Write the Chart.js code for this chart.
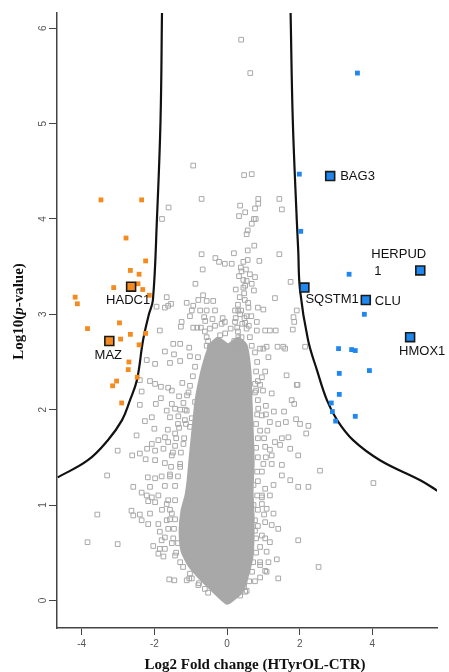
<!DOCTYPE html>
<html>
<head>
<meta charset="utf-8">
<script src="https://cdn.jsdelivr.net/npm/chart.js@4/dist/chart.umd.min.js"></script>
<style>
  html, body { margin:0; padding:0; background:#fff; }
  #wrap { width:449px; height:672px; }
</style>
</head>
<body>
<div id="wrap"><canvas id="volcano" width="449" height="672"></canvas></div>
<script>
// Volcano plot: log2 fold change (HTyrOL-CTR) vs log10(p-value)

const xTicks = [-4, -2, 0, 2, 4];
const yTicks = [0, 1, 2, 3, 4, 5, 6];

// non-significant proteins (hollow grey squares)
const greyPoints = [
  [0.39,5.88],[0.64,5.53],[-0.93,4.56],[0.47,4.46],[0.68,4.47],[-0.70,4.21],[-1.61,4.12],[0.36,4.14],
  [0.86,4.16],[0.86,4.21],[1.44,4.21],[0.77,4.11],[1.51,4.10],[0.50,4.07],[0.33,4.03],[-1.79,4.00],
  [0.74,4.00],[0.79,4.00],[0.68,3.95],[0.57,3.88],[0.54,3.84],[0.75,3.72],[1.44,3.63],[-0.70,3.63],
  [0.19,3.64],[0.57,3.67],[-0.32,3.59],[-0.22,3.55],[-0.06,3.53],[0.13,3.53],[0.45,3.55],[0.57,3.57],
  [0.89,3.56],[-0.67,3.47],[0.38,3.49],[0.52,3.47],[0.33,3.40],[0.63,3.42],[0.77,3.39],[1.75,3.34],
  [-0.87,3.32],[0.54,3.35],[0.68,3.32],[0.45,3.28],[0.74,3.25],[0.24,3.26],[-0.66,3.20],[0.47,3.22],
  [1.32,3.17],[-1.66,3.18],[-0.79,3.15],[-0.56,3.14],[-0.38,3.14],[0.49,3.15],[-1.54,3.11],[-1.62,3.09],
  [-1.94,3.08],[-1.11,3.12],[-0.93,3.09],[-1.71,3.07],[0.59,3.07],[0.85,3.07],[1.00,3.05],[1.92,3.04],
  [-0.97,3.04],[-0.74,3.04],[-0.56,3.04],[-0.33,3.04],[0.22,3.04],[0.31,3.04],[0.39,3.04],[-1.02,2.98],
  [-0.63,2.97],[0.54,2.98],[0.24,2.96],[0.48,2.96],[0.67,2.98],[1.83,2.97],[-1.25,2.92],[-0.12,2.96],
  [-0.60,2.93],[-0.06,2.92],[0.22,2.92],[0.50,2.91],[0.82,2.92],[1.85,2.92],[-1.27,2.87],[-0.93,2.86],
  [-0.82,2.86],[-0.72,2.86],[-0.47,2.85],[-0.33,2.88],[0.28,2.86],[0.54,2.85],[0.82,2.83],[1.05,2.83],
  [1.18,2.83],[1.34,2.83],[1.81,2.84],[-1.85,2.83],[-0.61,2.82],[-0.19,2.78],[0.31,2.76],[0.40,2.76],
  [0.63,2.76],[-0.56,2.76],[-1.48,2.69],[-1.29,2.69],[-1.04,2.65],[-0.56,2.67],[-0.47,2.66],[0.27,2.64],
  [0.45,2.66],[0.68,2.67],[1.00,2.64],[2.15,2.66],[1.60,2.64],[1.64,2.36],[1.92,2.26],
  [0.30,3.10],[0.36,3.00],[0.42,2.90],[0.45,3.36],[0.40,3.45],[0.30,2.82],[-0.05,2.80],[0.10,2.85],
  [-0.15,2.90],[0.35,3.18],[0.58,3.12],[0.60,2.88],[-0.40,2.95],[-0.52,2.72],[0.20,2.72],[0.50,3.30],
  [-1.71,2.61],[-1.46,2.58],[-1.02,2.56],[-2.21,2.52],[-1.98,2.48],[-1.57,2.49],[-1.29,2.51],[-2.40,2.31],
  [-2.12,2.30],[-1.98,2.27],[-1.82,2.24],[-1.62,2.23],[-1.23,2.28],[-1.52,2.20],[-2.35,2.19],[-1.06,2.18],
  [-1.32,2.14],[-1.82,2.12],[-2.40,2.05],[-1.96,2.06],[-1.52,2.06],[-1.20,2.07],[-0.88,2.08],[-1.66,1.99],
  [-1.43,2.01],[-1.11,1.99],[-2.26,1.88],[-2.07,1.92],[-1.57,1.92],[-1.34,1.93],[-1.16,1.89],[-0.97,1.91],
  [-2.00,1.80],[-1.63,1.79],[-1.32,1.81],[-1.02,1.82],[-2.49,1.73],[-1.71,1.71],[-1.43,1.75],[-2.07,1.64],
  [-1.89,1.68],[-1.62,1.66],[-1.43,1.62],[-1.20,1.64],[-2.20,1.59],[-1.98,1.57],[-1.75,1.59],[-1.52,1.52],
  [-2.61,1.52],[-2.40,1.54],[-2.24,1.48],[-1.98,1.47],[-1.71,1.44],[-1.29,1.43],[-3.30,1.31],[-2.18,1.29],
  [-1.98,1.28],[-1.80,1.30],[-1.57,1.32],[-2.58,1.19],[-2.12,1.19],[-3.01,1.57],
  [-0.80,2.55],[-0.88,2.45],[-0.94,2.35],[-1.02,2.25],[-1.10,2.15],[-1.16,2.00],[-1.29,2.00],[-1.13,1.85],
  [-1.35,1.85],[-1.18,1.70],[-1.40,1.70],[-1.27,1.55],[-1.49,1.55],[-1.29,1.40],[-1.54,1.40],[-1.35,1.30],
  [-1.57,1.30],[-1.43,1.20],[-1.71,1.20],[-1.43,1.05],[-1.62,1.05],[-1.57,0.95],[-1.79,0.95],[-1.57,0.85],
  [-1.43,0.85],[-1.62,0.75],[-1.46,0.75],[-1.52,0.60],[-1.35,0.60],[-1.40,0.50],[-1.21,0.35],[-1.02,0.28],
  [-0.77,0.18],[-0.52,0.08],
  [0.91,2.64],[1.09,2.66],[1.39,2.66],[1.55,2.66],[1.14,2.55],[0.96,2.34],[1.94,2.26],[0.77,2.27],
  [0.91,2.26],[1.23,2.17],[0.77,2.18],[1.78,2.10],[1.85,2.06],[1.07,2.04],[0.86,2.01],[1.29,1.98],
  [1.57,1.98],[0.96,1.94],[1.18,1.87],[1.41,1.85],[1.62,1.87],[1.90,1.90],[2.01,1.85],[2.24,1.83],
  [2.18,1.75],[1.11,1.78],[0.91,1.78],[1.51,1.70],[1.69,1.71],[1.32,1.66],[1.05,1.61],[1.18,1.58],
  [1.46,1.63],[1.74,1.59],[1.96,1.52],[1.23,1.52],[1.00,1.43],[1.23,1.43],[1.51,1.42],[2.56,1.36],
  [1.51,1.31],[1.74,1.26],[1.96,1.19],[2.24,1.19],[4.03,1.23],
  [0.77,2.60],[0.83,2.50],[0.80,2.40],[1.05,2.40],[0.85,2.30],[0.80,2.20],[0.99,2.20],[0.85,2.10],
  [0.83,1.95],[1.07,1.95],[0.80,1.85],[0.85,1.70],[1.02,1.70],[0.80,1.60],[0.85,1.50],[1.07,1.50],
  [0.83,1.35],[0.96,1.35],[0.85,1.25],[0.83,1.10],[0.96,1.10],[0.85,0.95],[1.02,0.90],[0.85,0.78],
  [0.80,0.65],[1.05,0.65],[0.80,0.50],[0.72,0.40],[0.91,0.40],[0.69,0.30],[0.61,0.20],[0.77,0.20],
  [0.47,0.15],
  [-3.57,0.90],[-3.84,0.61],[-3.01,0.59],[-2.35,1.13],[-2.21,1.10],[-2.07,1.08],[-1.89,1.10],[-2.17,1.04],
  [-1.98,1.03],[-1.66,1.01],[-2.63,0.94],[-2.58,0.89],[-2.40,0.90],[-2.12,0.91],[-2.35,0.84],[-2.17,0.80],
  [-1.89,0.80],[-1.66,0.84],[-1.52,0.91],[-1.85,0.72],[-1.71,0.66],[-1.80,0.63],[-1.48,0.65],[-2.03,0.57],
  [-1.85,0.54],[-1.71,0.54],[-1.89,0.49],[-1.75,0.46],[-1.43,0.47],[-1.29,0.40],[-1.59,0.22],[-1.45,0.21],
  [-1.11,0.21],[-0.97,0.23],[-0.79,0.16],[-0.61,0.12],[0.50,0.09],[0.36,0.05],[-1.04,0.23],
  [0.73,1.21],[1.05,1.17],[1.28,1.21],[0.96,1.08],[1.18,1.10],[0.73,1.00],[0.96,1.01],[1.09,0.96],
  [1.28,0.91],[0.77,0.84],[1.05,0.82],[1.23,0.79],[1.41,0.75],[0.77,0.73],[0.96,0.68],[1.18,0.61],
  [0.91,0.56],[1.09,0.51],[1.37,0.43],[0.91,0.37],[1.14,0.40],[1.05,0.31],[0.91,0.24],[1.41,0.23],
  [0.54,0.10],[2.52,0.35],[1.09,0.30],[1.96,0.63]
];

// outline of the dense, fully overlapped core of grey squares
const coreOutline = [
  [-0.47,2.68],[-0.61,2.52],[-0.72,2.36],[-0.85,2.10],[-0.94,1.78],[-1.02,1.47],[-1.07,1.26],[-1.13,1.10],
  [-1.24,0.94],[-1.29,0.73],[-1.24,0.52],[-1.05,0.37],[-0.69,0.21],[-0.39,0.10],[-0.14,0.01],[0.00,-0.03],
  [0.14,0.00],[0.41,0.09],[0.55,0.24],[0.69,0.47],[0.72,0.84],[0.69,1.15],[0.72,1.47],[0.66,2.10],
  [0.63,2.41],[0.52,2.68],[0.30,2.75],[0.03,2.68],[-0.25,2.75],[-0.47,2.68]
];

// significance threshold curves
const leftCurve = [
  [-4.66,1.29],[-3.83,1.47],[-3.28,1.68],[-2.89,1.89],[-2.67,2.10],[-2.48,2.31],[-2.31,2.73],[-2.15,3.00],
  [-2.04,3.15],[-1.93,3.99],[-1.83,5.04],[-1.79,6.16]
];
const rightCurve = [
  [1.75,6.16],[1.81,5.04],[1.92,3.99],[1.96,3.67],[2.01,3.25],[2.23,2.73],[2.48,2.41],[2.75,2.10],
  [3.03,1.89],[3.47,1.68],[4.21,1.47],[5.32,1.26],[5.79,1.15]
];

// significantly down (orange) and up (blue) proteins
const downPoints = [
  [-3.47,4.20],[-2.35,4.20],[-2.78,3.80],[-2.24,3.56],[-2.66,3.46],[-2.42,3.42],[-3.12,3.28],[-2.45,3.32],
  [-2.32,3.26],[-4.18,3.18],[-4.12,3.11],[-2.14,3.20],[-2.96,2.91],[-3.84,2.85],[-2.66,2.79],[-2.24,2.80],
  [-2.93,2.74],[-2.42,2.68],[-2.70,2.50],[-2.72,2.42],[-2.47,2.34],[-3.04,2.30],[-3.15,2.25],[-2.90,2.07]
];
const upPoints = [
  [3.59,5.53],[1.99,4.47],[2.03,3.87],[3.36,3.42],[3.78,3.00],[3.07,2.64],[3.43,2.63],[3.53,2.62],
  [3.92,2.41],[3.09,2.38],[3.09,2.16],[2.87,2.07],[2.90,1.98],[2.99,1.88],[3.53,1.93]
];

// highlighted genes
const geneNames = ['HADC1', 'MAZ', 'BAG3', 'HERPUD\n1', 'SQSTM1', 'CLU', 'HMOX1'];
const geneFC    = [-2.64, -3.24, 2.84, 5.32, 2.13, 3.82, 5.04];
const geneLogP  = [3.29, 2.72, 4.45, 3.46, 3.28, 3.15, 2.76];
const geneUp    = [false, false, true, true, true, true, true];

// label placement in pixels relative to the gene's box: [dx, dy, align]
const LABEL_POS = [[-3, 14, 'center'], [-1, 14, 'center'], [10, 0, 'left'], [-49, -16, 'left'],
                   [1, 12, 'left'], [9, 1, 'left'], [-11, 14, 'left']];

const ORANGE = '#f58a1f';
const BLUE = '#1f87ee';
const GREY = '#a8a8a8';
const AXIS = '#444';

const toXY = arr => arr.map(p => ({ x:p[0], y:p[1] }));

const geneLabels = {
  id:'geneLabels',
  afterDatasetsDraw(chart){
    const { ctx, scales:{ x, y } } = chart;
    ctx.save();
    ctx.font = '13px "Liberation Sans", Arial, sans-serif';
    ctx.fillStyle = '#111';
    ctx.textBaseline = 'middle';
    geneNames.forEach((name, i) => {
      const px = x.getPixelForValue(geneFC[i]);
      const py = y.getPixelForValue(geneLogP[i]);
      const [dx, dy, align] = LABEL_POS[i];
      ctx.textAlign = align;
      name.split('\n').forEach((line, k) => {
        ctx.fillText(line, px + dx + (k ? 3 : 0), py + dy + k * 17);
      });
    });
    ctx.restore();
  }
};

const axisText = {
  id:'axisText',
  afterDraw(chart){
    const { ctx, scales:{ x, y } } = chart;
    ctx.save();
    // rotated y tick labels, R style
    ctx.font = '10px "Liberation Sans", Arial, sans-serif';
    ctx.fillStyle = '#555';
    ctx.textAlign = 'center';
    ctx.textBaseline = 'middle';
    y.ticks.forEach(t => {
      ctx.save();
      ctx.translate(43, y.getPixelForValue(t.value));
      ctx.rotate(-Math.PI / 2);
      ctx.fillText(String(t.value), 0, 0);
      ctx.restore();
    });

    // y title with italic p
    const parts = [['Log10(', 'bold'], ['p', 'italic bold'], ['-value)', 'bold']];
    const fam = '15px "Liberation Serif", "Times New Roman", serif';
    let total = 0;
    parts.forEach(p => { ctx.font = p[1] + ' ' + fam; total += ctx.measureText(p[0]).width; });
    ctx.save();
    ctx.translate(19, (y.top + y.bottom) / 2 - 9);
    ctx.rotate(-Math.PI / 2);
    ctx.fillStyle = '#111';
    ctx.textAlign = 'left';
    let cx = -total / 2;
    parts.forEach(p => {
      ctx.font = p[1] + ' ' + fam;
      ctx.fillText(p[0], cx, 0);
      cx += ctx.measureText(p[0]).width;
    });
    ctx.restore();

    // x title
    ctx.font = 'bold ' + fam;
    ctx.fillStyle = '#111';
    ctx.textAlign = 'center';
    ctx.fillText('Log2 Fold change (HTyrOL-CTR)', (x.left + x.right) / 2 + 8, 665);
    ctx.restore();
  }
};

new Chart(document.getElementById('volcano'), {
  type:'scatter',
  data:{
    datasets:[
      {
        label:'genes',
        data:geneFC.map((v, i) => ({ x:v, y:geneLogP[i] })),
        pointStyle:'rect', pointRadius:6.3,
        backgroundColor:geneUp.map(u => u ? BLUE : ORANGE),
        borderColor:'#1a1a1a', borderWidth:1.6,
        order:0
      },
      {
        label:'down', data:toXY(downPoints),
        pointStyle:'rect', pointRadius:3.4,
        backgroundColor:ORANGE, borderColor:ORANGE, borderWidth:0,
        order:1
      },
      {
        label:'up', data:toXY(upPoints),
        pointStyle:'rect', pointRadius:3.4,
        backgroundColor:BLUE, borderColor:BLUE, borderWidth:0,
        order:1
      },
      {
        label:'threshold left', data:toXY(leftCurve),
        showLine:true, pointRadius:0, borderColor:'#111', borderWidth:2.2,
        tension:0.4, fill:false, order:2
      },
      {
        label:'threshold right', data:toXY(rightCurve),
        showLine:true, pointRadius:0, borderColor:'#111', borderWidth:2.2,
        tension:0.4, fill:false, order:2
      },
      {
        label:'grey', data:toXY(greyPoints),
        pointStyle:'rect', pointRadius:3.3,
        backgroundColor:'rgba(255,255,255,0)', borderColor:GREY, borderWidth:1,
        order:3
      },
      {
        label:'core', data:toXY(coreOutline),
        showLine:true, pointRadius:0, borderColor:GREY, borderWidth:3,
        backgroundColor:GREY, fill:'shape', tension:0.2,
        order:4
      }
    ]
  },
  options:{
    responsive:false,
    devicePixelRatio:1,
    animation:false,
    layout:{ padding:{ top:13, right:12, left:0, bottom:0 } },
    plugins:{ legend:{ display:false }, tooltip:{ enabled:false } },
    scales:{
      x:{
        type:'linear', min:-4.68, max:5.78,
        afterBuildTicks: s => { s.ticks = xTicks.map(v => ({ value:v })); },
        ticks:{ includeBounds:false, color:'#555', padding:3,
                font:{ size:10, family:'"Liberation Sans", Arial, sans-serif' } },
        grid:{ drawOnChartArea:false, drawTicks:true, tickLength:7, color:AXIS, lineWidth:1 },
        border:{ display:true, color:AXIS, width:1.5 },
        afterFit: s => { s.height = 44; }
      },
      y:{
        type:'linear', min:-0.29, max:6.16,
        afterBuildTicks: s => { s.ticks = yTicks.map(v => ({ value:v })); },
        ticks:{ includeBounds:false, color:'rgba(0,0,0,0)',
                font:{ size:10, family:'"Liberation Sans", Arial, sans-serif' } },
        grid:{ drawOnChartArea:false, drawTicks:true, tickLength:8, color:AXIS, lineWidth:1 },
        border:{ display:true, color:AXIS, width:1.5 },
        afterFit: s => { s.width = 57; }
      }
    }
  },
  plugins:[geneLabels, axisText]
});
</script>
</body>
</html>
